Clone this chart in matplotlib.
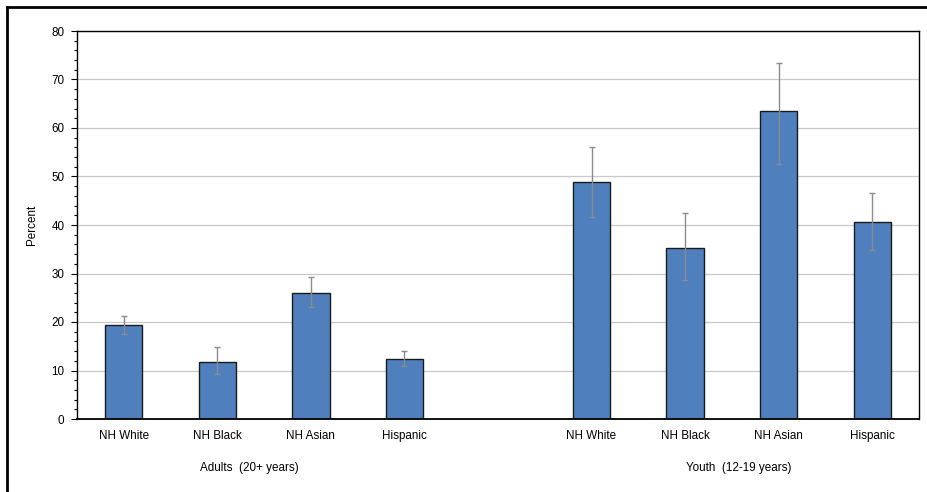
import matplotlib
matplotlib.use("Agg")
import matplotlib.pyplot as plt
from matplotlib.lines import Line2D
from matplotlib.ticker import MultipleLocator

plt.rcParams['font.family'] = ['Liberation Sans', 'DejaVu Sans']

# Categories and estimates (percent) with confidence limits
categories = ["NH White", "NH Black", "NH Asian", "Hispanic"]
groups = ["Adults  (20+ years)", "Youth  (12-19 years)"]

adult_values = [19.3, 11.8, 26.0, 12.4]
adult_lower = [17.5, 9.3, 23.0, 10.9]
adult_upper = [21.2, 14.9, 29.2, 14.1]

youth_values = [48.9, 35.2, 63.5, 40.6]
youth_lower = [41.6, 28.7, 52.5, 34.8]
youth_upper = [56.1, 42.5, 73.3, 46.7]

y_ticks = [0, 10, 20, 30, 40, 50, 60, 70, 80]

fig = plt.figure(figsize=(9.27, 4.92), dpi=100)
W, H = 927, 492
ax = fig.add_axes([77 / W, 1 - 419 / H, (919 - 77) / W, (419 - 31) / H])

adult_x = [0, 1, 2, 3]
youth_x = [5, 6, 7, 8]
bar_color = "#4F7FBD"
bar_width = 0.4
fs = 8.4

for xs, vals, lo, hi in [(adult_x, adult_values, adult_lower, adult_upper),
                         (youth_x, youth_values, youth_lower, youth_upper)]:
    ax.bar(xs, vals, width=bar_width, color=bar_color, edgecolor="#1a1a1a",
           linewidth=1.0, zorder=2)
    err = [[v - l for v, l in zip(vals, lo)], [h - v for v, h in zip(vals, hi)]]
    ax.errorbar(xs, vals, yerr=err, fmt="none", ecolor="#8c8c8c",
                elinewidth=1.0, capsize=2.5, capthick=1.0, zorder=3)

ax.set_xlim(-0.5, 8.5)
ax.set_ylim(0, 80)
ax.set_yticks(y_ticks)
ax.yaxis.set_minor_locator(MultipleLocator(2))
ax.tick_params(axis="y", which="major", direction="out", length=4, width=0.8,
               labelsize=fs, pad=5)
ax.tick_params(axis="y", which="minor", direction="out", length=2, width=0.8)
ax.set_xticks(adult_x + youth_x)
ax.set_xticklabels(categories + categories)
ax.tick_params(axis="x", length=0, labelsize=fs, pad=8)

ax.grid(axis="y", which="major", color="#c8c8c8", linewidth=0.9, zorder=0)
ax.set_axisbelow(True)
for side in ["top", "right", "left", "bottom"]:
    ax.spines[side].set_color("black")
    ax.spines[side].set_linewidth(1.0)
ax.spines["bottom"].set_linewidth(1.3)

ax.set_ylabel("Percent", fontsize=fs, labelpad=10)

# Group labels under each set of bars
trans = ax.get_xaxis_transform()
ax.text(1.34, -0.127, groups[0], transform=trans, ha="center", va="center",
        fontsize=fs)
ax.text(6.57, -0.127, groups[1], transform=trans, ha="center", va="center",
        fontsize=fs)

# Outer frame (top and left edges)
fig.add_artist(Line2D([7 / W, 7 / W], [0, 1 - 7 / H], transform=fig.transFigure,
                      color="black", linewidth=2.0))
fig.add_artist(Line2D([7 / W, 1], [1 - 7 / H, 1 - 7 / H], transform=fig.transFigure,
                      color="black", linewidth=2.0))

fig.savefig("out.png", dpi=100)
